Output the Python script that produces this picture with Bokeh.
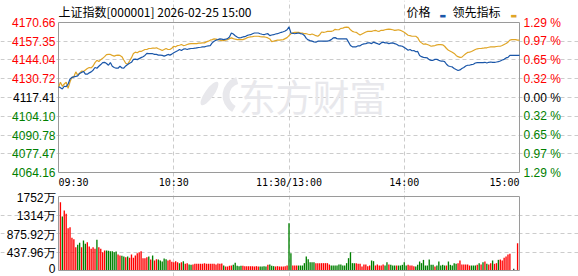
from bokeh.plotting import figure
from bokeh.layouts import column
from bokeh.models import Label, FixedTicker, ColumnDataSource, Range1d
from bokeh.core.properties import value
from bokeh.embed import file_html
from bokeh.resources import INLINE

# ---------------- data ----------------
title_text = "上证指数[000001] 2026-02-25 15:00"
prev_close = 4117.41
time_ticks = [0, 60, 120, 180, 240]
time_labels = ["09:30", "10:30", "11:30/13:00", "14:00", "15:00"]
price_ticks = [4170.66, 4157.35, 4144.04, 4130.72, 4117.41, 4104.10, 4090.78, 4077.47, 4064.16]
pct_labels = ["1.29 %", "0.97 %", "0.65 %", "0.32 %", "0.00 %", "0.32 %", "0.65 %", "0.97 %", "1.29 %"]
vol_ticks = [1752, 1314, 875.92, 437.96, 0]
vol_labels = ["1752万", "1314万", "875.92万", "437.96万", "0"]
legend_names = ["价格", "领先指标"]
watermark = "东方财富"

price = [
    4125.1, 4124.4, 4123.5, 4125.4, 4125.1, 4127.0, 4130.5, 4131.7, 4132.1, 4132.4, 4132.8,
    4134.5, 4135.2, 4135.9, 4134.0, 4134.0, 4134.9, 4135.6, 4136.8, 4138.7, 4138.2,
    4139.6, 4140.8, 4142.2, 4142.4, 4141.5, 4140.3, 4142.2, 4139.6, 4138.7, 4138.2,
    4138.2, 4139.6, 4138.4, 4138.2, 4139.8, 4140.8, 4141.7, 4142.4, 4144.5, 4144.7,
    4144.3, 4145.0, 4145.7, 4146.4, 4147.3, 4148.7, 4148.5, 4148.5, 4148.5, 4148.0,
    4148.0, 4147.5, 4147.5, 4147.3, 4146.8, 4147.3, 4148.0, 4147.5, 4148.2, 4149.2,
    4149.9, 4150.6, 4151.5, 4150.8, 4151.7, 4152.0, 4151.5, 4152.0, 4152.2, 4152.2,
    4152.4, 4152.7, 4152.9, 4153.1, 4153.4, 4153.4, 4153.8, 4154.1, 4154.3, 4156.2,
    4157.4, 4158.1, 4158.5, 4159.0, 4158.8, 4158.5, 4158.8, 4159.2, 4160.4, 4163.2,
    4162.5, 4161.3, 4160.4, 4159.7, 4159.9, 4160.4, 4160.6, 4161.3, 4161.8, 4162.0,
    4162.7, 4163.2, 4163.2, 4163.2, 4162.7, 4162.3, 4162.0, 4162.5, 4162.7, 4161.3,
    4161.8, 4162.0, 4162.5, 4162.7, 4163.2, 4163.7, 4164.1, 4164.6, 4165.5, 4167.5,
    4163.2, 4163.0, 4162.7, 4163.0, 4163.2, 4162.7, 4162.5, 4161.5, 4159.4, 4158.3,
    4157.8, 4157.4, 4156.9, 4156.7, 4157.4, 4157.4, 4157.4, 4157.4, 4157.4, 4157.4,
    4157.8, 4158.5, 4159.7, 4159.9, 4159.2, 4159.0, 4159.0, 4159.0, 4159.0, 4159.0,
    4156.7, 4154.3, 4153.4, 4153.4, 4153.4, 4154.1, 4154.1, 4155.0, 4155.5, 4155.7,
    4156.2, 4156.2, 4155.7, 4156.7, 4156.2, 4155.7, 4155.0, 4156.2, 4156.7, 4156.2,
    4156.2, 4155.7, 4156.0, 4156.2, 4155.7, 4155.2, 4154.3, 4154.1, 4153.8, 4152.9,
    4152.0, 4151.0, 4151.5, 4150.6, 4150.8, 4149.9, 4150.1, 4147.3, 4146.4, 4145.9,
    4145.7, 4145.5, 4144.3, 4143.8, 4143.8, 4144.5, 4144.5, 4143.8, 4143.3, 4143.3,
    4142.9, 4141.0, 4139.8, 4139.4, 4139.1, 4138.0, 4137.3, 4136.6, 4137.0, 4138.0,
    4138.7, 4139.8, 4140.3, 4140.3, 4140.8, 4141.0, 4141.9, 4142.2, 4142.2, 4142.2,
    4142.2, 4142.4, 4141.9, 4142.4, 4142.6, 4142.4, 4142.4, 4142.6, 4142.9, 4143.3,
    4144.0, 4144.5, 4145.5, 4145.9, 4147.3, 4147.3, 4147.3, 4147.3, 4147.3, 4147.3,
]

leading = [
    4124.7, 4128.2, 4125.4, 4127.0, 4128.2, 4124.0, 4128.6, 4131.7, 4132.1, 4135.6, 4133.3,
    4134.7, 4136.1, 4135.9, 4137.0, 4138.0, 4138.7, 4138.4, 4139.8, 4142.2, 4143.8,
    4142.9, 4144.3, 4145.2, 4146.4, 4147.8, 4148.0, 4148.0, 4147.3, 4146.8, 4147.3,
    4147.5, 4147.3, 4146.4, 4144.0, 4141.7, 4141.0, 4143.3, 4145.7, 4148.7, 4149.6,
    4149.2, 4150.1, 4150.1, 4150.8, 4151.5, 4151.5, 4152.2, 4152.2, 4152.4, 4152.4,
    4152.7, 4152.0, 4151.5, 4150.8, 4151.5, 4152.2, 4151.5, 4151.5, 4152.4, 4153.8,
    4153.4, 4154.3, 4154.5, 4155.0, 4154.3, 4154.5, 4155.0, 4155.5, 4155.7, 4155.7,
    4155.7, 4155.7, 4156.0, 4156.0, 4156.2, 4156.2, 4156.9, 4157.4, 4158.1, 4158.5,
    4159.0, 4158.8, 4158.5, 4158.1, 4157.8, 4157.8, 4158.1, 4158.5, 4159.2, 4159.7,
    4159.2, 4158.8, 4158.5, 4158.5, 4158.5, 4158.5, 4159.0, 4159.7, 4160.2, 4160.4,
    4160.6, 4160.9, 4160.9, 4160.9, 4160.6, 4160.4, 4160.4, 4160.2, 4159.7, 4159.0,
    4157.1, 4157.4, 4157.8, 4158.1, 4158.1, 4158.3, 4158.5, 4159.2, 4159.9, 4161.3,
    4162.7, 4163.4, 4163.7, 4163.7, 4163.7, 4163.4, 4163.2, 4162.7, 4162.7, 4162.3,
    4162.0, 4162.5, 4162.0, 4161.3, 4160.9, 4162.0, 4163.9, 4163.7, 4163.9, 4164.4,
    4164.4, 4164.4, 4164.8, 4165.8, 4165.5, 4165.5, 4166.5, 4166.7, 4167.2, 4167.4,
    4167.2, 4165.5, 4164.4, 4163.9, 4163.7, 4162.7, 4161.8, 4162.5, 4163.2, 4163.9,
    4164.4, 4164.4, 4164.4, 4164.8, 4165.1, 4164.6, 4164.4, 4165.1, 4165.1, 4165.5,
    4165.8, 4166.0, 4165.8, 4165.5, 4165.1, 4165.3, 4165.5, 4165.1, 4164.4, 4163.7,
    4162.7, 4161.6, 4161.3, 4160.9, 4160.9, 4160.9, 4159.9, 4157.4, 4156.2, 4155.2,
    4155.5, 4155.0, 4154.5, 4153.8, 4154.1, 4154.3, 4154.8, 4155.0, 4155.0, 4154.8,
    4153.8, 4152.2, 4151.0, 4150.3, 4149.6, 4148.7, 4147.3, 4146.4, 4145.9, 4146.1,
    4147.3, 4148.5, 4149.4, 4149.6, 4150.1, 4150.8, 4151.5, 4152.0, 4152.2, 4152.2,
    4152.4, 4152.7, 4152.7, 4153.1, 4153.4, 4153.4, 4153.4, 4153.6, 4153.8, 4153.8,
    4154.3, 4155.0, 4155.7, 4156.7, 4158.1, 4158.5, 4158.5, 4158.5, 4158.1, 4158.1,
]

# volume in 万 (10k shares), minutes 1..239
volume = [
    1617, 1278, 1420, 1341, 1002, 1026, 773, 742, 552, 608,
    655, 552, 710, 631, 670, 568, 513, 552, 513, 726,
    552, 513, 434, 473, 473, 466, 458, 458, 434, 450,
    379, 355, 347, 331, 316, 331, 300, 379, 300, 355,
    410, 434, 458, 292, 292, 316, 331, 260, 355, 237,
    268, 260, 237, 213, 284, 268, 237, 252, 205, 197,
    221, 197, 174, 197, 221, 158, 174, 142, 134, 142,
    158, 158, 158, 158, 158, 174, 158, 158, 158, 158,
    158, 142, 166, 158, 166, 118, 95, 95, 110, 118,
    134, 181, 110, 103, 110, 110, 103, 103, 103, 103,
    103, 95, 103, 95, 95, 95, 103, 95, 134, 142,
    110, 103, 95, 103, 95, 95, 95, 103, 118,
    1120, 410, 118, 118, 118, 118, 118, 118, 174, 331,
    268, 197, 197, 197, 174, 174, 174, 174, 174, 174,
    174, 142, 118, 118, 118, 118, 142, 142, 118, 118,
    174, 292, 434, 174, 174, 174, 158, 158, 95, 142,
    142, 103, 118, 237, 221, 118, 142, 118, 118, 142,
    118, 197, 142, 134, 118, 118, 118, 118, 118, 134,
    197, 118, 134, 118, 118, 103, 95, 134, 213, 174,
    252, 118, 118, 260, 134, 134, 95, 118, 213, 118,
    134, 118, 118, 213, 134, 118, 174, 158, 174, 237,
    142, 142, 142, 142, 118, 118, 118, 118, 134, 174,
    142, 197, 213, 158, 142, 174, 237, 158, 174, 252,
    260, 237, 300, 331, 379, 394, 0, 39, 0, 647,
]
# 1 = up (red), -1 = down (green), 0 = flat
direction = [
    1, -1, 1, 1, 1, 1, 1, 1, 1, -1,
    -1, 1, -1, -1, 1, 1, 1, 1, 1, -1,
    1, 1, 1, 1, -1, -1, -1, -1, -1, -1,
    1, 1, -1, -1, 1, -1, 1, 1, 1, 1,
    1, 1, 1, 1, 1, 1, -1, 1, -1, 1,
    1, -1, -1, -1, -1, -1, 1, 1, 1, 1,
    1, 1, -1, 1, -1, 1, 1, -1, -1, 1,
    1, 1, 1, 1, 1, 1, 1, 1, 1, 1,
    1, 1, 1, 1, 1, -1, 1, 1, 1, 1,
    -1, -1, -1, -1, -1, 1, 1, 1, 1, 1,
    1, 1, 1, 1, -1, -1, -1, -1, 1, -1,
    -1, -1, 1, 1, 1, 1, 1, 1, 1,
    -1, -1, 1, 1, 1, -1, -1, -1, -1, -1,
    -1, -1, -1, -1, 1, 1, 1, 1, 1, 1,
    1, 1, -1, -1, -1, -1, -1, -1, -1, -1,
    -1, -1, -1, -1, -1, 1, 1, 1, 1, 1,
    1, 1, 1, -1, -1, 1, 1, 1, 1, 1,
    -1, -1, 1, -1, -1, -1, 1, -1, -1, -1,
    -1, -1, 1, 1, 1, 1, -1, -1, -1, -1,
    -1, -1, -1, -1, -1, -1, 1, -1, -1, -1,
    -1, -1, 1, -1, -1, -1, -1, -1, 1, 1,
    1, 1, 1, 1, 1, -1, -1, -1, 1, -1,
    1, -1, 1, -1, 1, 1, -1, 1, 1, -1,
    1, 1, 1, 1, 1, 1, 1, 0, 1, 1,
]

# ---------------- styles / layout ----------------
RED = "#ff0000"
GREEN = "#008000"
BLUE = "#1a56a8"
GOLD = "#e0a526"
GRID = "#cccccc"
BORDER = "#9a9a9a"
WM = "#e8e8ec"
NUM_FONT = "Liberation Sans"
CJK_FONT = "Noto Sans CJK SC"
MONO_FONT = "DejaVu Sans Mono"

W = 578
PAD_L, PAD_R = 58, 59            # plot-area margins (px)
MAIN_H, MAIN_TOP, MAIN_BOT = 190, 22, 18
VOL_H, VOL_TOP, VOL_BOT = 86, 6, 6

t0, t1 = time_ticks[0], time_ticks[-1]
px_per_min = (W - PAD_L - PAD_R) / (t1 - t0)
x_range = Range1d(t0 - PAD_L / px_per_min, t1 + PAD_R / px_per_min)

pmin, pmax = min(price_ticks), max(price_ticks)
u_main = (pmax - pmin) / (MAIN_H - MAIN_TOP - MAIN_BOT)
vmin, vmax = min(vol_ticks), max(vol_ticks)
u_vol = (vmax - vmin) / (VOL_H - VOL_TOP - VOL_BOT)


def px_x(px):
    """canvas pixel column -> data x (for decoration placement)"""
    return t0 + (px - PAD_L) / px_per_min


def px_y(py):
    """canvas pixel row in the main chart -> data y"""
    return pmax - (py - MAIN_TOP) * u_main


minutes = list(range(len(price)))
vol_minutes = list(range(1, len(volume) + 1))
dir_color = {1: RED, -1: GREEN, 0: "#333333"}
vol_colors = [dir_color[d] for d in direction]


def label_color(val):
    if abs(val - prev_close) < 1e-6:
        return "#000000"
    return RED if val > prev_close else GREEN


def style_grid(fig, xticks, yticks, ybounds):
    fig.xgrid.ticker = FixedTicker(ticks=xticks)
    fig.ygrid.ticker = FixedTicker(ticks=yticks)
    fig.xgrid.bounds = (ybounds[0], ybounds[1])
    fig.ygrid.bounds = (t0, t1)
    for g in (fig.xgrid, fig.ygrid):
        g.grid_line_color = GRID
        g.grid_line_dash = "4 3"
        g.grid_line_width = 1


# ---------------- main price chart ----------------
p = figure(width=W, height=MAIN_H, x_range=x_range,
           y_range=Range1d(pmin - MAIN_BOT * u_main, pmax + MAIN_TOP * u_main),
           output_backend="svg", toolbar_location=None,
           x_axis_location=None, y_axis_location=None, title=None, min_border=0)
p.outline_line_color = None
p.background_fill_color = "white"
p.border_fill_color = "white"
style_grid(p, time_ticks[1:-1], price_ticks[1:-1], (pmin, pmax))

# watermark (logo + text)
p.ellipse(x=[px_x(209)], y=[px_y(93)], width=28, height=9, angle=0.95,
          width_units="screen", height_units="screen", fill_color=WM, line_color=None)
p.annular_wedge(x=[px_x(241)], y=[px_y(95)], inner_radius=12, outer_radius=19,
                start_angle=1.85, end_angle=4.2, start_angle_units="rad",
                inner_radius_units="screen", outer_radius_units="screen",
                fill_color=WM, line_color=None)
p.text(x=[px_x(312)], y=[px_y(95)], text=[watermark], text_font=value(CJK_FONT),
       text_font_size="37px", text_color=WM,
       text_align="center", text_baseline="middle")

# plot-area frame
p.quad(left=[t0], right=[t1], bottom=[pmin], top=[pmax], fill_color=None,
       line_color=BORDER, line_width=1)

p.line(minutes, leading, line_color=GOLD, line_width=1.2)
p.line(minutes, price, line_color=BLUE, line_width=1.2)

for val, pct in zip(price_ticks, pct_labels):
    c = label_color(val)
    p.add_layout(Label(x=t0, y=val, x_offset=-3, text=f"{val:.2f}", text_align="right",
                       text_baseline="middle", text_font=NUM_FONT, text_font_size="12px",
                       text_color=c))
    p.add_layout(Label(x=t1, y=val, x_offset=4, text=pct, text_align="left",
                       text_baseline="middle", text_font=NUM_FONT, text_font_size="12px",
                       text_color=c))

aligns = ["left", "center", "center", "center", "right"]
for t, lab, a in zip(time_ticks, time_labels, aligns):
    p.add_layout(Label(x=t, y=pmin, y_offset=-10, text=lab, text_align=a,
                       text_baseline="middle", text_font=MONO_FONT, text_font_size="10px",
                       text_color="#000000"))

p.add_layout(Label(x=t0, y=pmax, y_offset=11, text=title_text, text_align="left",
                   text_baseline="middle", text_font=CJK_FONT, text_font_size="12px",
                   text_color="#000000"))

# legend (text then colour mark)
p.add_layout(Label(x=t1, y=pmax, x_offset=-113, y_offset=11, text=legend_names[0],
                   text_align="left", text_baseline="middle", text_font=CJK_FONT,
                   text_font_size="12px", text_color="#000000"))
p.add_layout(Label(x=t1, y=pmax, x_offset=-80, y_offset=7, text="▬",
                   text_align="left", text_baseline="middle", text_font="DejaVu Sans",
                   text_font_size="7px", text_color=BLUE))
p.add_layout(Label(x=t1, y=pmax, x_offset=-67, y_offset=11, text=legend_names[1],
                   text_align="left", text_baseline="middle", text_font=CJK_FONT,
                   text_font_size="12px", text_color="#000000"))
p.add_layout(Label(x=t1, y=pmax, x_offset=-9, y_offset=7, text="▬",
                   text_align="left", text_baseline="middle", text_font="DejaVu Sans",
                   text_font_size="7px", text_color=GOLD))

# ---------------- volume chart ----------------
vp = figure(width=W, height=VOL_H, x_range=x_range,
            y_range=Range1d(vmin - VOL_BOT * u_vol, vmax + VOL_TOP * u_vol),
            output_backend="svg", toolbar_location=None,
            x_axis_location=None, y_axis_location=None, title=None, min_border=0)
vp.outline_line_color = None
vp.background_fill_color = "white"
vp.border_fill_color = "white"
style_grid(vp, time_ticks[1:-1], vol_ticks[1:-1], (vmin, vmax))

src = ColumnDataSource(dict(x=vol_minutes, top=volume, color=vol_colors))
vp.vbar(x="x", top="top", bottom=0, width=0.7, fill_color="color", line_color=None, source=src)

vp.quad(left=[t0], right=[t1], bottom=[vmin], top=[vmax], fill_color=None,
        line_color=BORDER, line_width=1)

for val, lab in zip(vol_ticks, vol_labels):
    off = 2 if val == vmin else -1   # keep the bottom label inside the canvas
    vp.add_layout(Label(x=t0, y=val, x_offset=-3, y_offset=off, text=lab, text_align="right",
                        text_baseline="middle", text_font=NUM_FONT, text_font_size="12px",
                        text_color="#000000"))

layout = column(p, vp, spacing=0)
open("out.html", "w").write(file_html(layout, INLINE))
